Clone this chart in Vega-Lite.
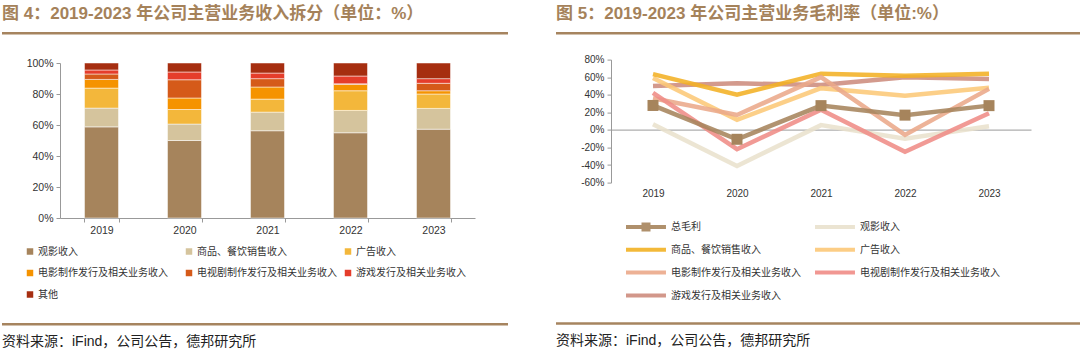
{
  "$schema": "https://vega.github.io/schema/vega-lite/v6.json",
  "padding": {"left": 2, "top": 5, "right": 0, "bottom": 0},
  "background": "white",
  "spacing": 48,
  "resolve": {"scale": {"color": "independent", "shape": "independent"}, "legend": {"color": "independent", "shape": "independent"}},
  "config": {
    "view": {"stroke": null},
    "font": "Liberation Sans, Noto Sans CJK SC",
    "title": {"anchor": "start", "fontSize": 17, "fontWeight": "bold", "color": "#a5825a", "offset": 9, "font": "Liberation Sans, Noto Sans CJK SC"},
    "axis": {"domainColor": "#999999", "tickColor": "#999999", "labelColor": "#333333", "labelFont": "Liberation Sans", "grid": false, "title": null, "labelOverlap": false}
  },
  "hconcat": [
    {
      "title": {"text": "图 4：2019-2023 年公司主营业务收入拆分（单位：%）"},
      "spacing": 23,
      "resolve": {"scale": {"color": "independent", "shape": "independent"}, "legend": {"color": "independent", "shape": "independent"}},
      "vconcat": [
        {"width": 506, "height": 2.5, "data": {"values": []}, "mark": "point", "view": {"fill": "#a6845f", "stroke": null}},
        {
          "spacing": 22,
          "resolve": {"scale": {"color": "independent", "shape": "independent"}, "legend": {"color": "independent", "shape": "independent"}},
          "hconcat": [
            {"width": 1, "height": 1, "data": {"values": []}, "mark": "point"},
            {
              "width": 415,
              "height": 155,
              "data": {"values": [
                {"year": "2019", "k": 1, "item": "观影收入", "value": 58.8},
                {"year": "2019", "k": 2, "item": "商品、餐饮销售收入", "value": 12.1},
                {"year": "2019", "k": 3, "item": "广告收入", "value": 12.9},
                {"year": "2019", "k": 4, "item": "电影制作发行及相关业务收入", "value": 5.6},
                {"year": "2019", "k": 5, "item": "电视剧制作发行及相关业务收入", "value": 3.5},
                {"year": "2019", "k": 6, "item": "游戏发行及相关业务收入", "value": 2.6},
                {"year": "2019", "k": 7, "item": "其他", "value": 4.5},
                {"year": "2020", "k": 1, "item": "观影收入", "value": 50.0},
                {"year": "2020", "k": 2, "item": "商品、餐饮销售收入", "value": 10.6},
                {"year": "2020", "k": 3, "item": "广告收入", "value": 9.4},
                {"year": "2020", "k": 4, "item": "电影制作发行及相关业务收入", "value": 7.4},
                {"year": "2020", "k": 5, "item": "电视剧制作发行及相关业务收入", "value": 11.8},
                {"year": "2020", "k": 6, "item": "游戏发行及相关业务收入", "value": 5.0},
                {"year": "2020", "k": 7, "item": "其他", "value": 5.8},
                {"year": "2021", "k": 1, "item": "观影收入", "value": 56.3},
                {"year": "2021", "k": 2, "item": "商品、餐饮销售收入", "value": 12.0},
                {"year": "2021", "k": 3, "item": "广告收入", "value": 8.4},
                {"year": "2021", "k": 4, "item": "电影制作发行及相关业务收入", "value": 7.8},
                {"year": "2021", "k": 5, "item": "电视剧制作发行及相关业务收入", "value": 5.4},
                {"year": "2021", "k": 6, "item": "游戏发行及相关业务收入", "value": 3.6},
                {"year": "2021", "k": 7, "item": "其他", "value": 6.5},
                {"year": "2022", "k": 1, "item": "观影收入", "value": 55.0},
                {"year": "2022", "k": 2, "item": "商品、餐饮销售收入", "value": 14.4},
                {"year": "2022", "k": 3, "item": "广告收入", "value": 12.7},
                {"year": "2022", "k": 4, "item": "电影制作发行及相关业务收入", "value": 4.1},
                {"year": "2022", "k": 5, "item": "电视剧制作发行及相关业务收入", "value": 0.4},
                {"year": "2022", "k": 6, "item": "游戏发行及相关业务收入", "value": 5.0},
                {"year": "2022", "k": 7, "item": "其他", "value": 8.4},
                {"year": "2023", "k": 1, "item": "观影收入", "value": 57.3},
                {"year": "2023", "k": 2, "item": "商品、餐饮销售收入", "value": 13.4},
                {"year": "2023", "k": 3, "item": "广告收入", "value": 9.3},
                {"year": "2023", "k": 4, "item": "电影制作发行及相关业务收入", "value": 2.1},
                {"year": "2023", "k": 5, "item": "电视剧制作发行及相关业务收入", "value": 4.8},
                {"year": "2023", "k": 6, "item": "游戏发行及相关业务收入", "value": 3.0},
                {"year": "2023", "k": 7, "item": "其他", "value": 10.1}
              ]},
              "mark": {"type": "bar", "stroke": "white", "strokeWidth": 0.5},
              "encoding": {
                "x": {"field": "year", "type": "ordinal", "scale": {"paddingInner": 0.59, "paddingOuter": 0.295},
                      "axis": {"labelAngle": 0, "tickBand": "extent", "tickSize": 4, "labelPadding": 3, "labelFontSize": 10.5}},
                "y": {"field": "value", "type": "quantitative", "stack": "zero", "scale": {"domain": [0, 100], "nice": false},
                      "axis": {"values": [0, 20, 40, 60, 80, 100], "tickCount": 10, "labelExpr": "datum.value + '%'", "tickSize": 4, "labelPadding": 3, "labelFontSize": 10.5, "labelOverlap": false}},
                "order": {"field": "k", "type": "quantitative", "sort": "ascending"},
                "color": {"field": "item", "type": "nominal",
                          "scale": {"domain": ["观影收入", "商品、餐饮销售收入", "广告收入", "电影制作发行及相关业务收入", "电视剧制作发行及相关业务收入", "游戏发行及相关业务收入", "其他"],
                                    "range": ["#a6845c", "#d5c49d", "#f3b73b", "#f59300", "#d55a19", "#e53d2b", "#a62e10"]},
                          "legend": {"title": null, "orient": "none", "direction": "horizontal", "legendX": -35, "legendY": 183.5, "columns": 3, "gridAlign": "all", "columnPadding": 6, "rowPadding": 11.5,
                                     "symbolType": "square", "symbolSize": 42, "symbolStrokeWidth": 0, "labelOffset": 3, "labelFontSize": 10, "labelFont": "Noto Sans CJK SC", "labelColor": "#333333", "labelLimit": 300}}
              }
            }
          ]
        },
        {"width": 506, "height": 2.5, "data": {"values": []}, "mark": "point", "view": {"fill": "#a6845f", "stroke": null},
         "title": {"text": "资料来源：iFind，公司公告，德邦研究所", "orient": "bottom", "fontSize": 14, "fontWeight": "normal", "color": "#222222", "offset": 9}}
      ]
    },
    {
      "title": {"text": "图 5：2019-2023 年公司主营业务毛利率（单位:%）"},
      "spacing": 19.6,
      "resolve": {"scale": {"color": "independent", "shape": "independent"}, "legend": {"color": "independent", "shape": "independent"}},
      "vconcat": [
        {"width": 524, "height": 2.5, "data": {"values": []}, "mark": "point", "view": {"fill": "#a6845f", "stroke": null}},
        {
          "spacing": 23,
          "resolve": {"scale": {"color": "independent", "shape": "independent"}, "legend": {"color": "independent", "shape": "independent"}},
          "hconcat": [
            {"width": 1, "height": 243, "data": {"values": []}, "mark": "point"},
            {
              "width": 420,
              "height": 123,
              "data": {"values": [
                {"year": "2019", "series": "观影收入", "value": 6.5},
                {"year": "2020", "series": "观影收入", "value": -41},
                {"year": "2021", "series": "观影收入", "value": 5.4},
                {"year": "2022", "series": "观影收入", "value": -10},
                {"year": "2023", "series": "观影收入", "value": 4.2},
                {"year": "2019", "series": "游戏发行及相关业务收入", "value": 50},
                {"year": "2020", "series": "游戏发行及相关业务收入", "value": 53},
                {"year": "2021", "series": "游戏发行及相关业务收入", "value": 51},
                {"year": "2022", "series": "游戏发行及相关业务收入", "value": 60},
                {"year": "2023", "series": "游戏发行及相关业务收入", "value": 58},
                {"year": "2019", "series": "广告收入", "value": 59},
                {"year": "2020", "series": "广告收入", "value": 11.5},
                {"year": "2021", "series": "广告收入", "value": 47.5},
                {"year": "2022", "series": "广告收入", "value": 39},
                {"year": "2023", "series": "广告收入", "value": 48},
                {"year": "2019", "series": "商品、餐饮销售收入", "value": 63.5},
                {"year": "2020", "series": "商品、餐饮销售收入", "value": 40},
                {"year": "2021", "series": "商品、餐饮销售收入", "value": 64},
                {"year": "2022", "series": "商品、餐饮销售收入", "value": 61.6},
                {"year": "2023", "series": "商品、餐饮销售收入", "value": 64},
                {"year": "2019", "series": "电影制作发行及相关业务收入", "value": 36},
                {"year": "2020", "series": "电影制作发行及相关业务收入", "value": 17},
                {"year": "2021", "series": "电影制作发行及相关业务收入", "value": 60},
                {"year": "2022", "series": "电影制作发行及相关业务收入", "value": -5.7},
                {"year": "2023", "series": "电影制作发行及相关业务收入", "value": 46.7},
                {"year": "2019", "series": "电视剧制作发行及相关业务收入", "value": 42},
                {"year": "2020", "series": "电视剧制作发行及相关业务收入", "value": -22},
                {"year": "2021", "series": "电视剧制作发行及相关业务收入", "value": 23},
                {"year": "2022", "series": "电视剧制作发行及相关业务收入", "value": -25},
                {"year": "2023", "series": "电视剧制作发行及相关业务收入", "value": 19},
                {"year": "2019", "series": "总毛利", "value": 27.8},
                {"year": "2020", "series": "总毛利", "value": -10.7},
                {"year": "2021", "series": "总毛利", "value": 27.6},
                {"year": "2022", "series": "总毛利", "value": 16.8},
                {"year": "2023", "series": "总毛利", "value": 27.6}
              ]},
              "resolve": {"scale": {"color": "independent", "shape": "independent"}, "legend": {"color": "independent", "shape": "independent"}},
              "layer": [
                {
                  "mark": {"type": "line", "strokeWidth": 4.5, "opacity": 0.88},
                  "encoding": {
                    "x": {"field": "year", "type": "ordinal", "scale": {"type": "point", "padding": 0.5},
                          "axis": {"labelAngle": 0, "domain": false, "ticks": false, "tickSize": 0, "labelPadding": 6, "labelFontSize": 10}},
                    "y": {"field": "value", "type": "quantitative", "scale": {"domain": [-60, 80], "nice": false},
                          "axis": {"values": [-60, -40, -20, 0, 20, 40, 60, 80], "tickCount": 10, "labelExpr": "datum.value + '%'", "tickSize": 4, "labelPadding": 3, "labelFontSize": 10, "labelOverlap": false,
                                   "grid": true, "gridWidth": 1, "gridColor": {"condition": {"test": "datum.value === 0", "value": "#999999"}, "value": "rgba(255,255,255,0)"}}},
                    "color": {"field": "series", "type": "nominal",
                              "scale": {"domain": ["总毛利", "观影收入", "商品、餐饮销售收入", "广告收入", "电影制作发行及相关业务收入", "电视剧制作发行及相关业务收入", "游戏发行及相关业务收入"],
                                        "range": ["#a6845c", "#e9e1cd", "#f2b124", "#fcc878", "#eba88a", "#ef8c86", "#cd8c7d"]},
                              "legend": null}
                  }
                },
                {
                  "transform": [{"filter": {"field": "series", "equal": "总毛利"}}],
                  "mark": {"type": "point", "shape": "square", "filled": true, "size": 121, "color": "#a6845c", "opacity": 1},
                  "encoding": {
                    "x": {"field": "year", "type": "ordinal"},
                    "y": {"field": "value", "type": "quantitative", "axis": {"values": [-60, -40, -20, 0, 20, 40, 60, 80], "tickCount": 10}}
                  }
                },
                {
                  "transform": [{"filter": {"field": "series", "equal": "无"}}],
                  "mark": {"type": "point", "filled": true, "opacity": 0.9},
                  "encoding": {
                    "color": {"field": "series", "type": "nominal",
                              "scale": {"domain": ["总毛利", "观影收入", "商品、餐饮销售收入", "广告收入", "电影制作发行及相关业务收入", "电视剧制作发行及相关业务收入", "游戏发行及相关业务收入"],
                                        "range": ["#a6845c", "#e9e1cd", "#f2b124", "#fcc878", "#eba88a", "#ef8c86", "#cd8c7d"]},
                              "legend": {"title": null, "orient": "none", "direction": "horizontal", "legendX": 15, "legendY": 159.7, "columns": 2, "gridAlign": "all", "columnPadding": 4, "rowPadding": 9.9,
                                         "symbolSize": 225, "symbolStrokeWidth": 0, "labelOffset": 30, "labelFontSize": 10, "labelFont": "Noto Sans CJK SC", "labelColor": "#333333", "labelLimit": 300}},
                    "shape": {"field": "series", "type": "nominal",
                              "scale": {"domain": ["总毛利", "观影收入", "商品、餐饮销售收入", "广告收入", "电影制作发行及相关业务收入", "电视剧制作发行及相关业务收入", "游戏发行及相关业务收入"],
                                        "range": ["M-1,-0.27H4.33V0.27H-1Z M1.067,-0.6H2.267V0.6H1.067Z", "M-1,-0.27H4.33V0.27H-1Z", "M-1,-0.27H4.33V0.27H-1Z", "M-1,-0.27H4.33V0.27H-1Z", "M-1,-0.27H4.33V0.27H-1Z", "M-1,-0.27H4.33V0.27H-1Z", "M-1,-0.27H4.33V0.27H-1Z"]},
                              "legend": {"title": null, "orient": "none", "direction": "horizontal", "legendX": 15, "legendY": 159.7, "columns": 2, "gridAlign": "all", "columnPadding": 4, "rowPadding": 9.9,
                                         "symbolSize": 225, "symbolStrokeWidth": 0, "labelOffset": 30, "labelFontSize": 10, "labelFont": "Noto Sans CJK SC", "labelColor": "#333333", "labelLimit": 300}}
                  }
                }
              ]
            }
          ]
        },
        {"width": 524, "height": 2.5, "data": {"values": []}, "mark": "point", "view": {"fill": "#a6845f", "stroke": null},
         "title": {"text": "资料来源：iFind，公司公告，德邦研究所", "orient": "bottom", "fontSize": 14, "fontWeight": "normal", "color": "#222222", "offset": 9}}
      ]
    }
  ]
}
